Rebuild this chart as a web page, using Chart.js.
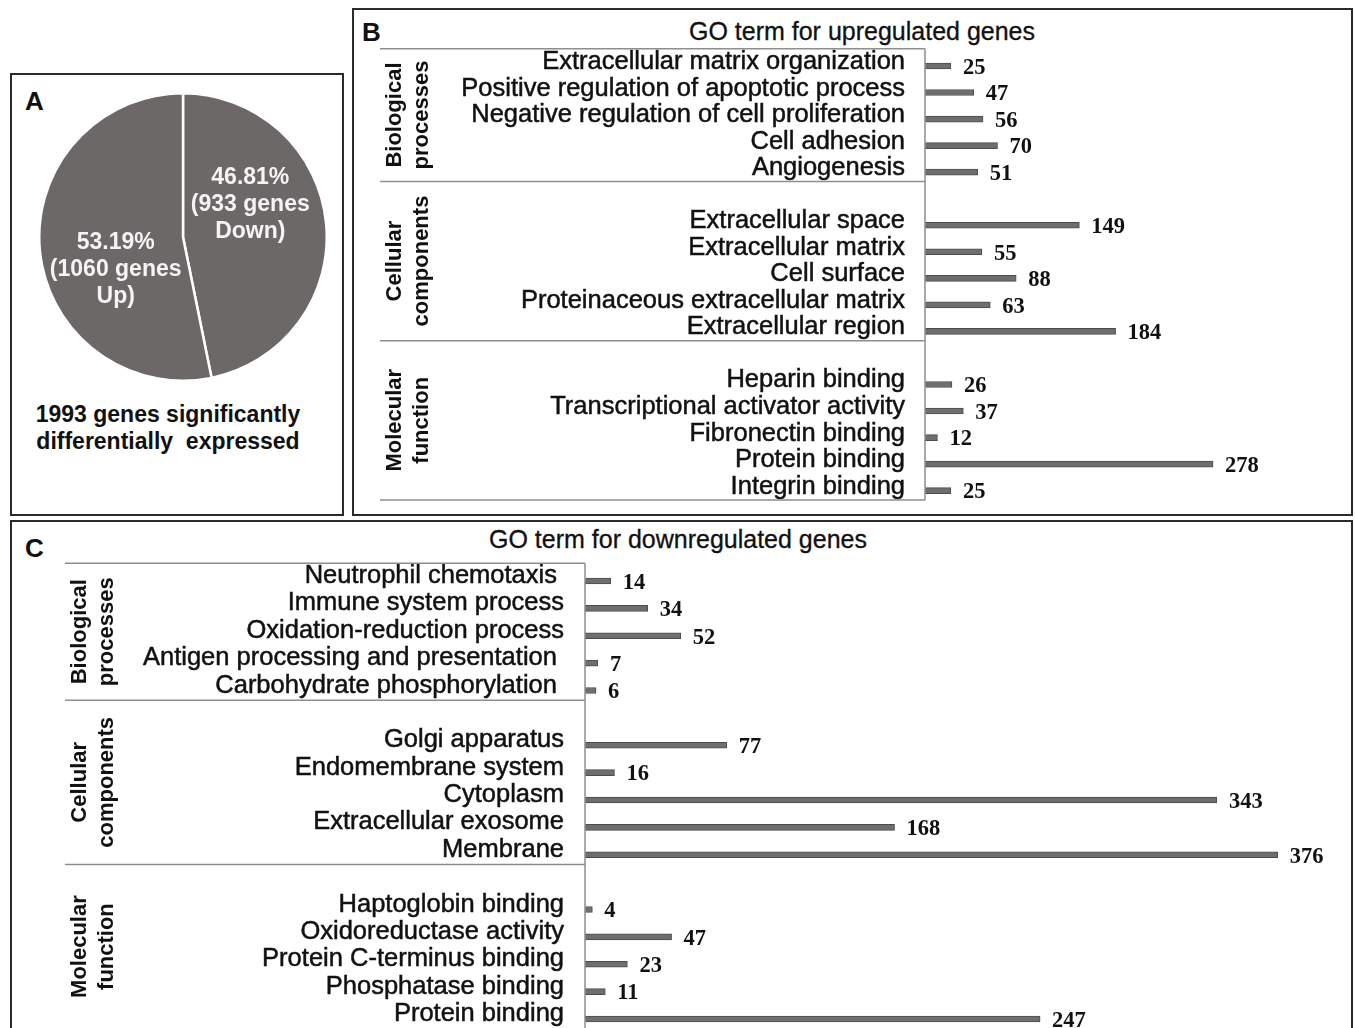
<!DOCTYPE html>
<html>
<head>
<meta charset="utf-8">
<title>GO terms for differentially expressed genes</title>
<script src="https://cdn.jsdelivr.net/npm/chart.js@4.4.1/dist/chart.umd.min.js"></script>
<style>
  body { margin: 0; width: 1355px; height: 1028px; overflow: hidden; background: #fff; position: relative;
         font-family: "Liberation Sans", Arial, sans-serif; color: #111; }
  .box { position: absolute; border: 2px solid #2a2a2a; box-sizing: border-box; }
  .letter { position: absolute; font-weight: bold; font-size: 26px; line-height: 30px; }
  .title { position: absolute; font-size: 25px; line-height: 30px; white-space: nowrap; transform: translateX(-50%);
           -webkit-text-stroke: 0.3px #111; }
  .caption { position: absolute; font-weight: bold; font-size: 23px; line-height: 27px; text-align: center; white-space: pre; transform: translateX(-50%); }
  canvas { position: absolute; }
</style>
</head>
<body>
<div class="box" style="left:10px;top:73px;width:334px;height:443px"></div>
<div class="box" style="left:352px;top:8px;width:1001px;height:508px"></div>
<div class="box" style="left:10px;top:520px;width:1343px;height:540px"></div>

<div class="letter" style="left:25px;top:86px">A</div>
<div class="letter" style="left:362px;top:17px">B</div>
<div class="letter" style="left:25px;top:533px">C</div>

<div class="title" style="left:862px;top:16px">GO term for upregulated genes</div>
<div class="title" style="left:678px;top:524px">GO term for downregulated genes</div>
<div class="caption" style="left:168px;top:401px">1993 genes significantly
differentially  expressed</div>

<canvas id="pie-chart" width="290" height="290" style="left:38px;top:92px"></canvas>
<canvas id="up-chart" width="1000" height="507" style="left:352px;top:8px"></canvas>
<canvas id="down-chart" width="1342" height="520" style="left:10px;top:520px"></canvas>

<script>
// pie: genes up / down
const pieLabels = ["Down", "Up"]
const pieGenes = [933, 1060]
const piePercents = ["46.81%", "53.19%"]

// GO terms, upregulated
const upBioLabels = ["Extracellular matrix organization", "Positive regulation of apoptotic process",
  "Negative regulation of cell proliferation", "Cell adhesion", "Angiogenesis"]
const upBioValues = [25, 47, 56, 70, 51]
const upCellLabels = ["Extracellular space", "Extracellular matrix", "Cell surface",
  "Proteinaceous extracellular matrix", "Extracellular region"]
const upCellValues = [149, 55, 88, 63, 184]
const upMolLabels = ["Heparin binding", "Transcriptional activator activity", "Fibronectin binding",
  "Protein binding", "Integrin binding"]
const upMolValues = [26, 37, 12, 278, 25]

// GO terms, downregulated
const downBioLabels = ["Neutrophil chemotaxis ", "Immune system process", "Oxidation-reduction process",
  "Antigen processing and presentation ", "Carbohydrate phosphorylation "]
const downBioValues = [14, 34, 52, 7, 6]
const downCellLabels = ["Golgi apparatus", "Endomembrane system", "Cytoplasm", "Extracellular exosome", "Membrane"]
const downCellValues = [77, 16, 343, 168, 376]
const downMolLabels = ["Haptoglobin binding", "Oxidoreductase activity", "Protein C-terminus binding",
  "Phosphatase binding", "Protein binding"]
const downMolValues = [4, 47, 23, 11, 247]

const groupNames = [["Biological", "processes"], ["Cellular", "components"], ["Molecular", "function"]]

// excel style: an empty row in front of the 2nd and 3rd group
function buildRows(groups) {
  const labels = [], values = [], spans = []
  groups.forEach(([l, v], g) => {
    const start = labels.length
    if (g > 0) { labels.push(""); values.push(null) }
    l.forEach((t, i) => { labels.push(t); values.push(v[i]) })
    spans.push([start, labels.length - 1])
  })
  return { labels, values, spans }
}

const upRows = buildRows([[upBioLabels, upBioValues], [upCellLabels, upCellValues], [upMolLabels, upMolValues]])
const downRows = buildRows([[downBioLabels, downBioValues], [downCellLabels, downCellValues], [downMolLabels, downMolValues]])

// lines and rotated group names left of the bars
const groupAxis = {
  id: "groupAxis",
  afterDraw(chart, args, opts) {
    const { ctx, chartArea } = chart
    const y = chart.scales.y
    const half = (y.getPixelForValue(1) - y.getPixelForValue(0)) / 2
    const edges = opts.spans.map(s => [y.getPixelForValue(s[0]) - half + opts.shift, y.getPixelForValue(s[1]) + half + opts.shift])
    const lines = [edges[0][0], ...edges.map(e => e[1])]
    ctx.save()
    ctx.strokeStyle = "#8e8e8e"
    ctx.lineWidth = 1.5
    ctx.beginPath()
    lines.forEach(yy => { ctx.moveTo(opts.left, yy); ctx.lineTo(chartArea.left, yy) })
    ctx.moveTo(chartArea.left, lines[0])
    ctx.lineTo(chartArea.left, lines[lines.length - 1])
    ctx.stroke()
    ctx.fillStyle = "#111"
    ctx.font = "bold 22px 'Liberation Sans'"
    ctx.textAlign = "center"
    ctx.textBaseline = "middle"
    groupNames.forEach((name, i) => {
      const mid = (edges[i][0] + edges[i][1]) / 2
      name.forEach((t, j) => {
        ctx.save()
        ctx.translate(opts.left + 15 + j * 27, mid)
        ctx.rotate(-Math.PI / 2)
        ctx.fillText(t, 0, 0)
        ctx.restore()
      })
    })
    ctx.restore()
  }
}

const valueLabels = {
  id: "valueLabels",
  afterDatasetsDraw(chart) {
    const { ctx } = chart
    const values = chart.data.datasets[0].data
    ctx.save()
    ctx.font = "bold 22.5px 'Liberation Serif'"
    ctx.fillStyle = "#111"
    ctx.textAlign = "left"
    ctx.textBaseline = "middle"
    chart.getDatasetMeta(0).data.forEach((bar, i) => {
      if (values[i] == null) return
      ctx.fillText(values[i], bar.x + 12, bar.y + 2)
    })
    ctx.restore()
  }
}

function barChart(id, rows, opt) {
  return new Chart(document.getElementById(id), {
    type: "bar",
    data: {
      labels: rows.labels,
      datasets: [{
        data: rows.values,
        backgroundColor: "#6e6e6e",
        borderColor: "#4c4c4c",
        borderWidth: 1,
        barThickness: 6,
      }],
    },
    options: {
      indexAxis: "y",
      responsive: false,
      animation: false,
      layout: { padding: opt.padding },
      scales: {
        x: { display: false, min: 0, max: 400 },
        y: {
          grid: { display: false, drawTicks: false },
          border: { display: false },
          ticks: {
            autoSkip: false,
            padding: opt.tickPad,
            labelOffset: opt.labelOffset,
            color: "#111",
            textStrokeColor: "#111",
            textStrokeWidth: 0.5,
            font: { family: "Liberation Sans", size: 25.5 },
          },
          afterFit(scale) {
            scale.width = opt.axisWidth
            // keep the plot area where the layout padding puts it
            scale.paddingTop = 0
            scale.paddingBottom = 0
          },
        },
      },
      plugins: {
        legend: { display: false },
        tooltip: { enabled: false },
        groupAxis: { spans: rows.spans, left: opt.gridLeft, shift: -4 },
      },
    },
    plugins: [groupAxis, valueLabels],
  })
}

barChart("up-chart", upRows, {
  padding: { left: 93, top: 44.7, bottom: 11.1, right: 12.6 },
  axisWidth: 480, tickPad: 20, labelOffset: -4, gridLeft: 28,
})

barChart("down-chart", downRows, {
  padding: { left: 0, top: 47.3, bottom: 7.3, right: 30 },
  axisWidth: 575, tickPad: 21, labelOffset: -5, gridLeft: 55,
})

// pie labels inside the slices, turned a little against the clock
const pieText = {
  id: "pieText",
  afterDatasetsDraw(chart) {
    const { ctx } = chart
    ctx.save()
    ctx.fillStyle = "#f4f4f4"
    ctx.font = "bold 23px 'Liberation Sans'"
    ctx.textAlign = "center"
    ctx.textBaseline = "middle"
    chart.getDatasetMeta(0).data.forEach((arc, i) => {
      const { x, y, startAngle, endAngle, outerRadius } = arc.getProps(["x", "y", "startAngle", "endAngle", "outerRadius"], true)
      const mid = (startAngle + endAngle) / 2 - 0.35
      const cx = x + Math.cos(mid) * outerRadius * 0.52
      const cy = y + Math.sin(mid) * outerRadius * 0.52
      const lines = [piePercents[i], "(" + pieGenes[i] + " genes", pieLabels[i] + ")"]
      lines.forEach((t, j) => ctx.fillText(t, cx, cy + (j - 1) * 27))
    })
    ctx.restore()
  }
}

new Chart(document.getElementById("pie-chart"), {
  type: "pie",
  data: {
    labels: pieLabels,
    datasets: [{ data: pieGenes, backgroundColor: "#6c6868", borderColor: "#ffffff", borderWidth: 2.5 }],
  },
  options: {
    responsive: false,
    animation: false,
    plugins: { legend: { display: false }, tooltip: { enabled: false } },
  },
  plugins: [pieText],
})
</script>
</body>
</html>
